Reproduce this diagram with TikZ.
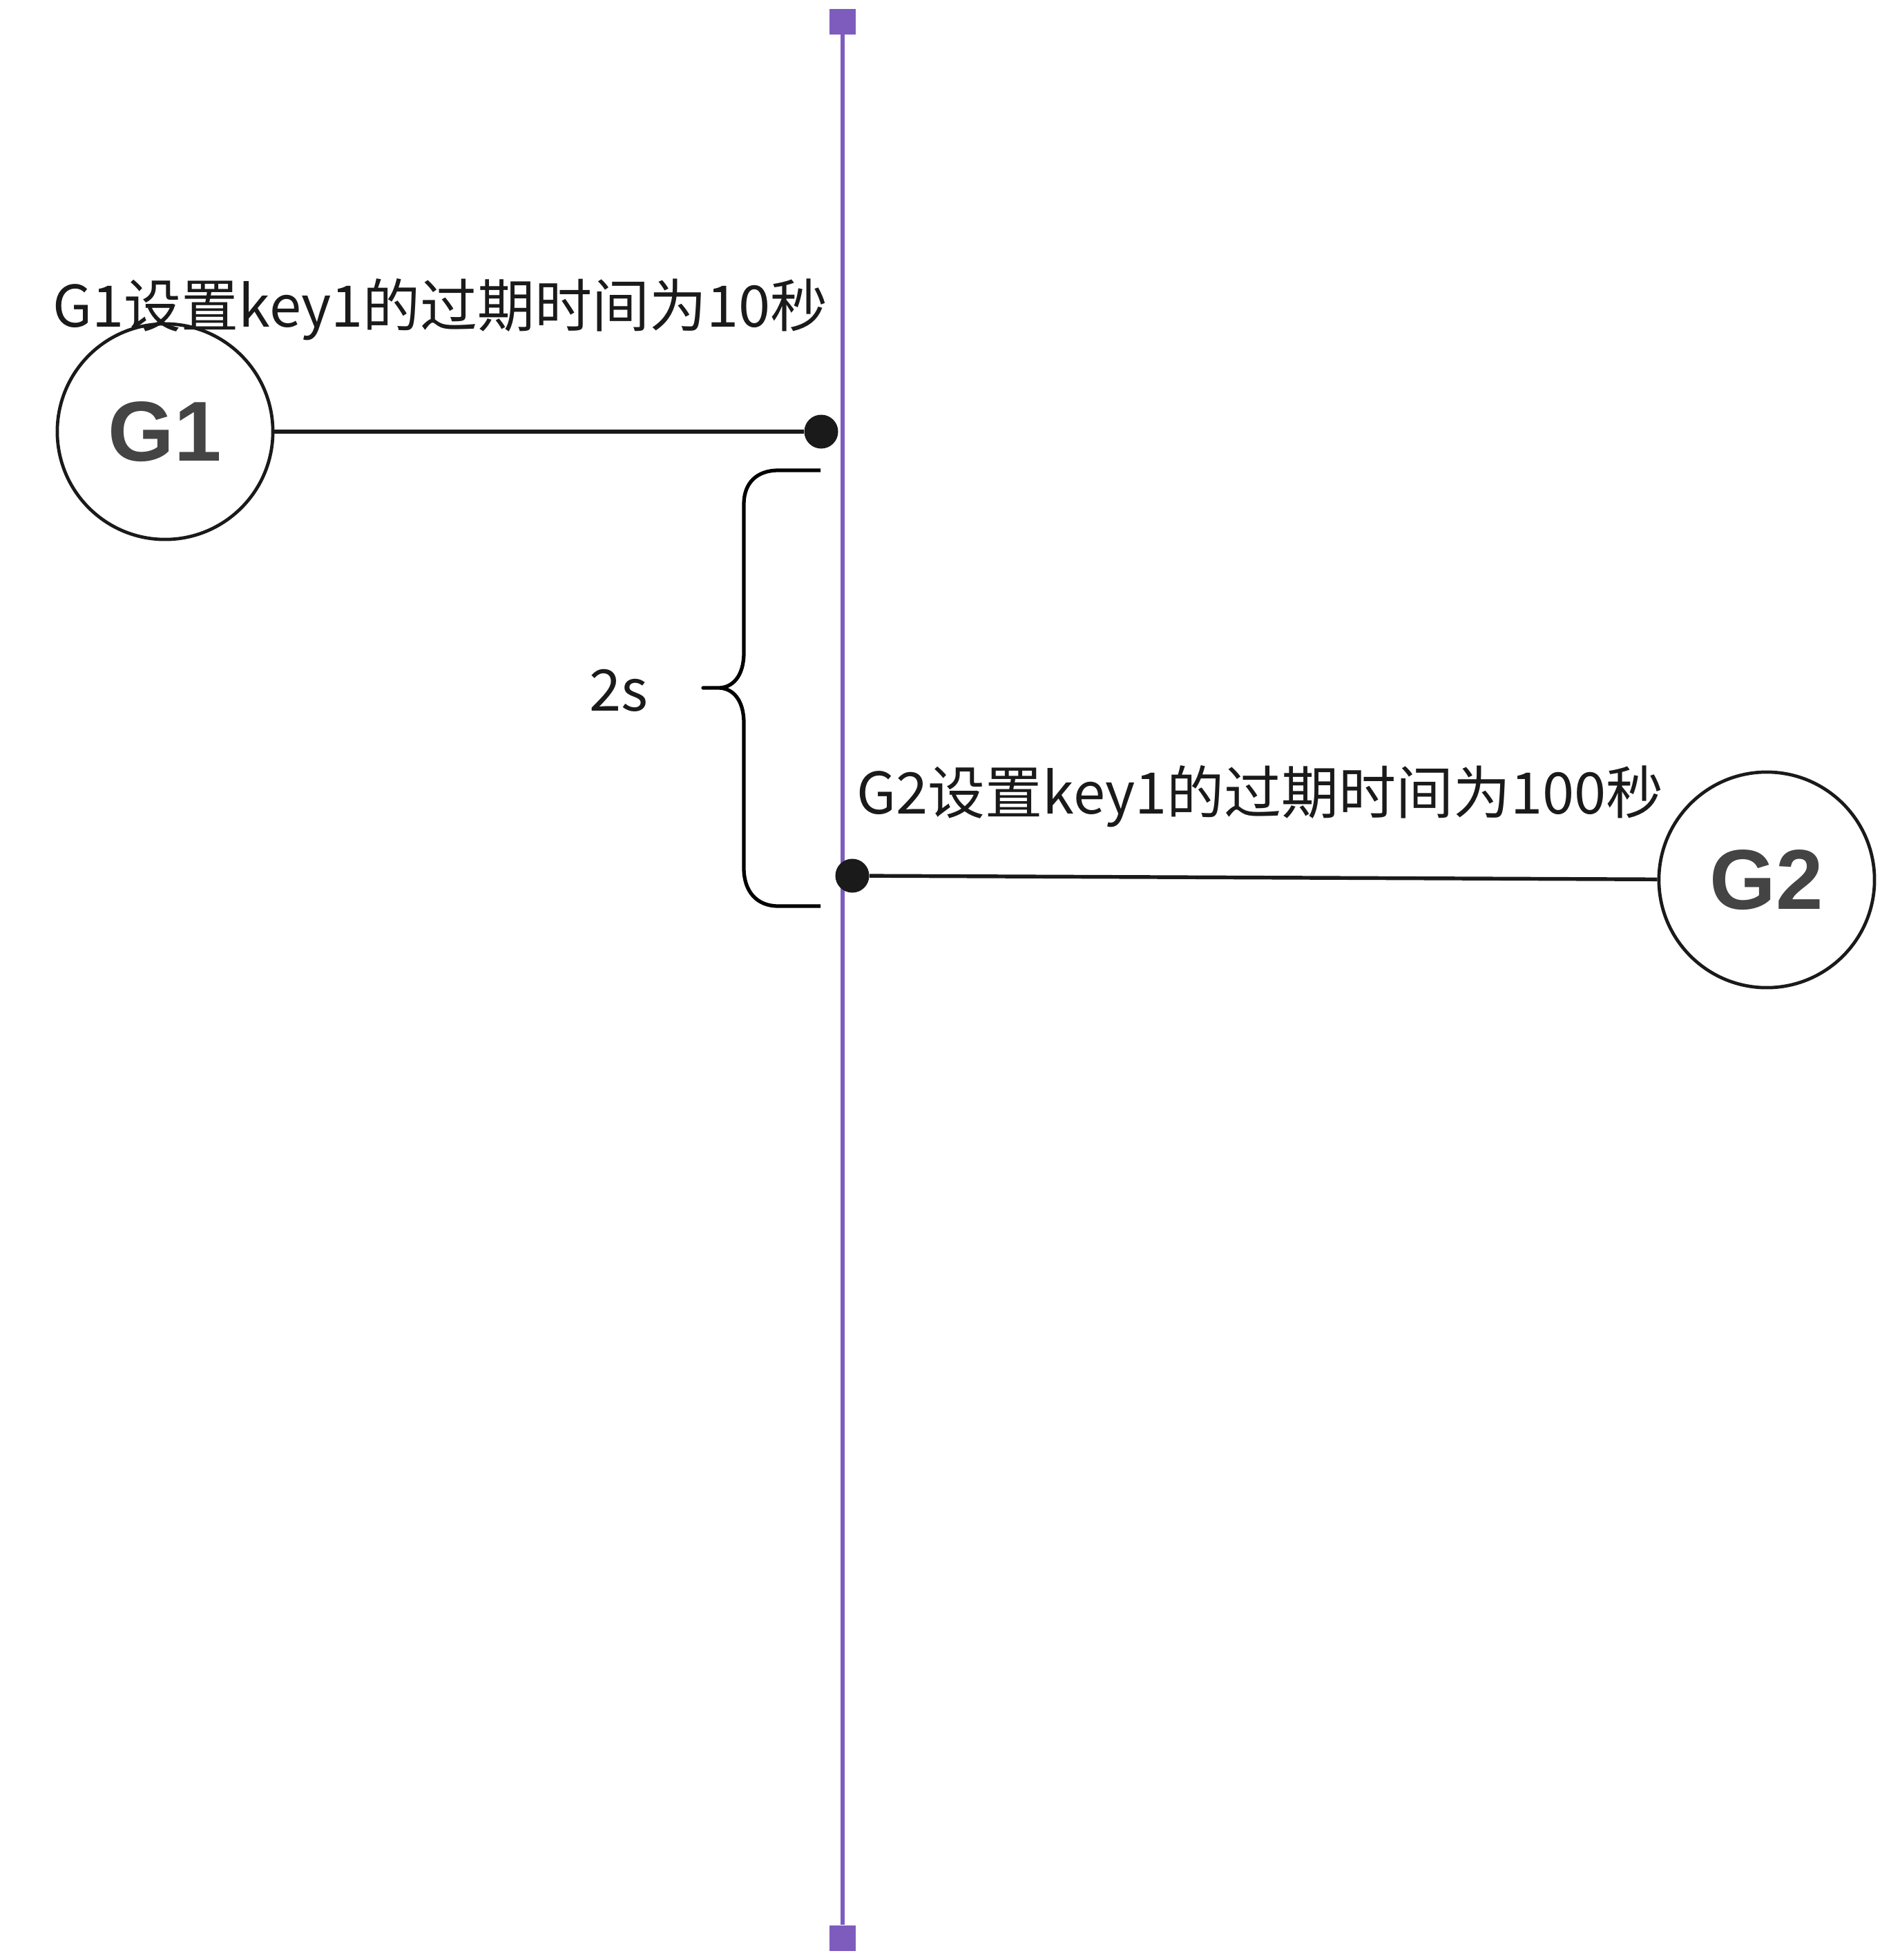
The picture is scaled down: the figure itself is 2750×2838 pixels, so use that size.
\documentclass[tikz,border=0pt]{standalone}
\usepackage{fontspec}
\newfontfamily\cjk{Noto Sans CJK SC}
\newfontfamily\arialf{Liberation Sans}
\definecolor{tlpurple}{RGB}{125,92,190}
\definecolor{inkblack}{RGB}{26,26,26}
\definecolor{labelgray}{RGB}{68,68,68}
\begin{document}
\begin{tikzpicture}[x=0.01cm,y=-0.01cm,
  endsq/.style={fill=tlpurple,draw=none,minimum size=0.37cm,inner sep=0},
  evdot/.style={circle,fill=inkblack,draw=none,minimum size=0.49cm,inner sep=0},
  gnode/.style={circle,draw=inkblack,line width=1.35pt,minimum size=3.12cm,inner sep=0,
     font=\arialf\bfseries\fontsize{35}{38}\selectfont,text=labelgray},
  lbl/.style={inner sep=0,font=\cjk\fontsize{23.6}{26}\selectfont,text=inkblack},
  conn/.style={draw=inkblack,line width=1.55pt},
  bracestyle/.style={draw=black,line width=1.5pt,line join=round}]
\useasboundingbox (0,0) rectangle (2750,2838);
\fill[white] (0,0) rectangle (2750,2838);
% timeline
\node[endsq] (top) at (1220,31) {};
\node[endsq] (bot) at (1220,2806) {};
\draw[tlpurple,line width=1.7pt] (top) -- (bot);
% G1
\node[gnode] (g1) at (239,625) {G1};
\node[evdot] (d1) at (1189,625) {};
\draw[conn] (g1) -- (d1);
\node[lbl,anchor=base west] (l1) at (76,473) {G1设置key1的过期时间为10秒};
% G2
\node[gnode] (g2) at (2558,1274) {G2};
\node[evdot] (d2) at (1234,1268) {};
\draw[conn] (d2) -- (g2);
\node[lbl,anchor=base west] (l2) at (1240,1178) {G2设置key1的过期时间为100秒};
% brace
\draw[bracestyle] (1188,681) -- (1127,681) .. controls (1095,681) and (1077,700) .. (1077,730)
  -- (1077,945) .. controls (1077,980) and (1060,996) .. (1040,996) -- (1018,996) -- (1040,996)
  .. controls (1060,996) and (1077,1012) .. (1077,1047) -- (1077,1257)
  .. controls (1077,1290) and (1095,1312) .. (1127,1312) -- (1188,1312);
\node[lbl] (t2s) at (896,1000) {2s};
\end{tikzpicture}
\end{document}
